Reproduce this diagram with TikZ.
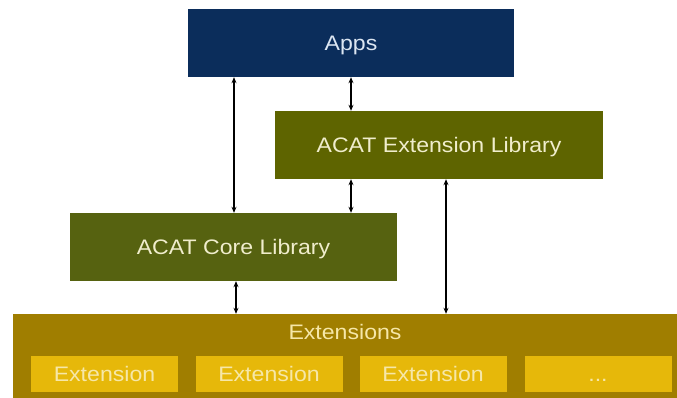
\documentclass[tikz,border=0pt]{standalone}
\usepackage{fontspec}
\setmainfont{Liberation Sans}[FakeStretch=1.1]
\usetikzlibrary{arrows.meta}
\definecolor{appsblue}{HTML}{0B2D5B}
\definecolor{olivebox}{HTML}{5E6400}
\definecolor{corebox}{HTML}{566210}
\definecolor{extbig}{HTML}{A07E00}
\definecolor{extsmall}{HTML}{E6B80A}
\definecolor{apptext}{HTML}{DCE6F2}
\definecolor{olivetext}{HTML}{F0EDCC}
\definecolor{exttext}{HTML}{F6E7A8}
\begin{document}
\begin{tikzpicture}[x=1pt,y=-1pt,
  box/.style={rectangle, inner sep=0pt, text height=15pt, text depth=0pt, font=\fontsize{21}{24}\selectfont},
  appsbox/.style={box, fill=appsblue, text=apptext, minimum width=326pt, minimum height=68pt},
  libbox/.style={box, fill=olivebox, text=olivetext, minimum width=328pt, minimum height=68pt},
  corelib/.style={box, fill=corebox, text=olivetext, minimum width=327pt, minimum height=68pt},
  bigbox/.style={box, fill=extbig, minimum width=664pt, minimum height=84pt},
  smallbox/.style={box, fill=extsmall, text=exttext, minimum width=147pt, minimum height=36pt},
  titletext/.style={box, text=exttext},
  arr/.style={{Stealth[length=6pt,width=5pt]}-{Stealth[length=6pt,width=5pt]}, line width=1.4pt, black}]
\useasboundingbox[fill=white] (0,0) rectangle (677,398);
\node[appsbox] (apps) at (351,43) {Apps};
\node[libbox] (extlib) at (439,145) {ACAT Extension Library};
\node[corelib] (core) at (233.5,247) {ACAT Core Library};
\node[bigbox] (ext) at (345,356) {};
\node[titletext] (exttitle) at (345,332) {Extensions};
\node[smallbox] (e1) at (104.5,374) {Extension};
\node[smallbox] (e2) at (269,374) {Extension};
\node[smallbox] (e3) at (433,374) {Extension};
\node[smallbox] (e4) at (598,374) {...};
\draw[arr] (apps.south -| 234,0) -- (core.north -| 234,0);
\draw[arr] (apps.south -| 351,0) -- (extlib.north -| 351,0);
\draw[arr] (extlib.south -| 351,0) -- (core.north -| 351,0);
\draw[arr] (extlib.south -| 446,0) -- (ext.north -| 446,0);
\draw[arr] (core.south -| 236,0) -- (ext.north -| 236,0);
\end{tikzpicture}
\end{document}
